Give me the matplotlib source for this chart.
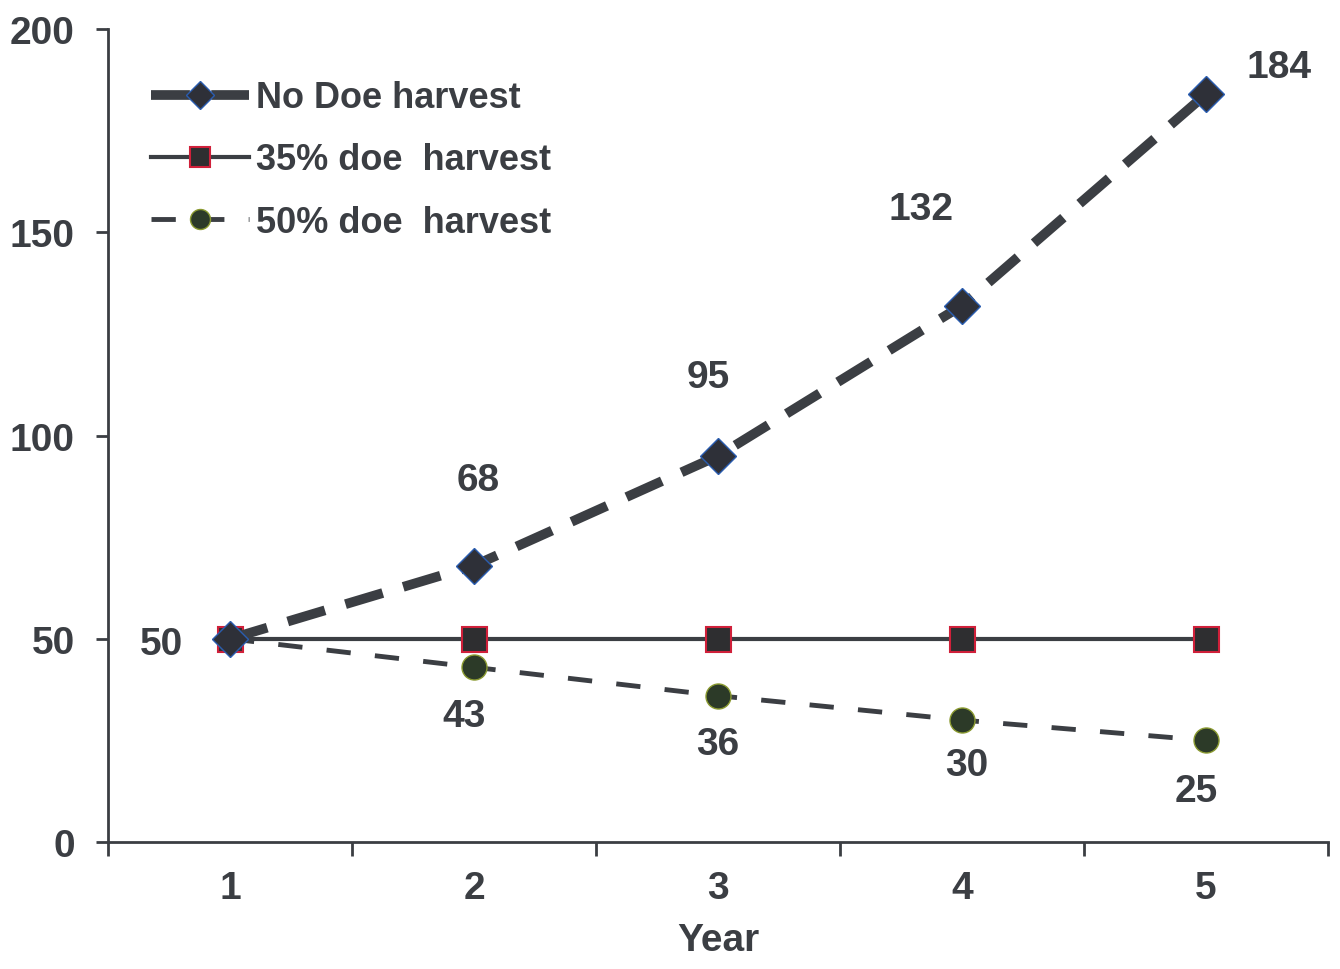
import matplotlib
matplotlib.use("Agg")
import matplotlib.pyplot as plt

plt.rcParams['font.family'] = ['Liberation Sans', 'DejaVu Sans']
plt.rcParams['font.weight'] = 'bold'

years = [1, 2, 3, 4, 5]
no_doe = [50, 68, 95, 132, 184]
doe_35 = [50, 50, 50, 50, 50]
doe_50 = [50, 43, 36, 30, 25]
series_names = ["No Doe harvest", "35% doe  harvest", "50% doe  harvest"]

# label offsets (pixels) for the data labels
no_doe_offsets = [None, (4, 86), (-10, 79), (-41, 97), (73, 27)]
doe_50_offsets = [(-69, -5), (-10, -49), (0, -48), (5, -45), (-10, -51)]

dark = '#3b3e43'

fig = plt.figure(figsize=(13.4, 9.7), dpi=100)
ax = fig.add_axes([0.0806, 0.1309, 0.9104, 0.838])

ax.plot(years, doe_35, color=dark, lw=3, marker='s', ms=18,
        mfc='#2e2e30', mec='#d0203a', mew=1.5, label=series_names[1], zorder=3)
ax.plot(years, doe_50, color=dark, lw=3.5, ls=(0, (5, 5)), marker='o', ms=18,
        mfc='#2c3a28', mec='#8a9a30', mew=1, label=series_names[2], zorder=4)
ax.plot(years, no_doe, color=dark, lw=7, ls=(0, (4, 2.2)), marker='D', ms=18,
        mfc='#2e3038', mec='#2a5db0', mew=1, label=series_names[0], zorder=5)

for x, v, off in zip(years, no_doe, no_doe_offsets):
    if off is None:
        continue
    ax.annotate(str(v), (x, v), xytext=off, textcoords='offset pixels',
                ha='center', va='center', fontsize=28, color=dark, fontweight='bold')
for x, v, off in zip(years, doe_50, doe_50_offsets):
    ax.annotate(str(v), (x, v), xytext=off, textcoords='offset pixels',
                ha='center', va='center', fontsize=28, color=dark, fontweight='bold')

ax.set_xlim(0.5, 5.5)
ax.set_ylim(0, 200)
ax.set_yticks([0, 50, 100, 150, 200])
ax.set_xticks(years)
ax.set_xticks([0.5, 1.5, 2.5, 3.5, 4.5, 5.5], minor=True)
ax.tick_params(axis='x', which='major', length=0, pad=20, labelsize=28, labelcolor=dark)
ax.tick_params(axis='x', which='minor', length=10, width=2, color=dark, direction='out')
ax.tick_params(axis='y', length=9, width=2, color=dark, pad=15, labelsize=28, labelcolor=dark)
for lab in ax.get_xticklabels() + ax.get_yticklabels():
    lab.set_fontweight('bold')

ax.spines['top'].set_visible(False)
ax.spines['right'].set_visible(False)
ax.spines['left'].set_color(dark)
ax.spines['bottom'].set_color(dark)
ax.spines['left'].set_linewidth(2)
ax.spines['bottom'].set_linewidth(2)

ax.set_xlabel("Year", fontsize=28, fontweight='bold', color=dark, labelpad=12)

handles, labels = ax.get_legend_handles_labels()
order = [2, 0, 1]
leg = ax.legend([handles[i] for i in order], [labels[i] for i in order],
                loc='upper left', bbox_to_anchor=(0.009, 0.977), frameon=False,
                fontsize=26, handlelength=2.7, handletextpad=0.2, labelspacing=0.75,
                markerscale=0.8)
for t in leg.get_texts():
    t.set_color(dark)
    t.set_fontweight('bold')

fig.savefig("out.png", dpi=100)
